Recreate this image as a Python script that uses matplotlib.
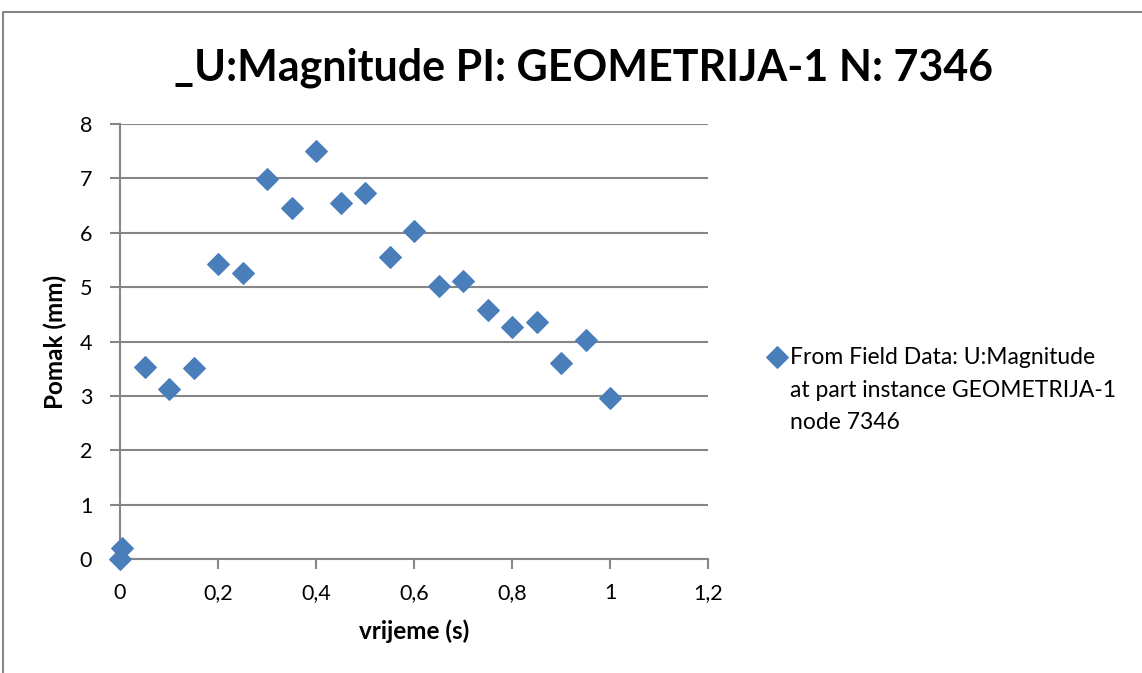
import matplotlib.pyplot as plt
from matplotlib.ticker import FuncFormatter

# data
vrijeme = [0.0, 0.005, 0.05, 0.1, 0.15, 0.2, 0.25, 0.3, 0.35, 0.4, 0.45,
           0.5, 0.55, 0.6, 0.65, 0.7, 0.75, 0.8, 0.85, 0.9, 0.95, 1.0]
pomak = [0.0, 0.2, 3.53, 3.12, 3.52, 5.43, 5.26, 6.99, 6.45, 7.51, 6.54,
         6.73, 5.56, 6.04, 5.03, 5.12, 4.58, 4.26, 4.35, 3.60, 4.03, 2.97]
x_ticks = [0, 0.2, 0.4, 0.6, 0.8, 1.0, 1.2]
y_ticks = [0, 1, 2, 3, 4, 5, 6, 7, 8]

title = '_U:Magnitude PI: GEOMETRIJA-1 N: 7346'
legend_label = 'From Field Data: U:Magnitude\nat part instance GEOMETRIJA-1\nnode 7346'

plt.rcParams['font.family'] = ['Lato', 'DejaVu Sans']
grid_col = '#868686'
blue = '#4A7EBB'

fig = plt.figure(figsize=(11.42, 6.73), dpi=100)
ax = fig.add_axes([0.1051, 0.1694, 0.5149, 0.6463])

ax.scatter(vrijeme, pomak, marker='D', s=120, color=blue, zorder=3,
           clip_on=False, label=legend_label)

ax.set_xlim(0, 1.2)
ax.set_ylim(0, 8)
ax.set_xticks(x_ticks)
ax.set_yticks(y_ticks)

def comma_fmt(v, pos):
    s = ('%g' % v)
    return s.replace('.', ',')

ax.xaxis.set_major_formatter(FuncFormatter(comma_fmt))
ax.yaxis.set_major_formatter(FuncFormatter(comma_fmt))

ax.grid(axis='y', color=grid_col, linewidth=1.5)
ax.set_axisbelow(True)
for side in ['top', 'right']:
    ax.spines[side].set_visible(False)
for side in ['left', 'bottom']:
    ax.spines[side].set_color(grid_col)
    ax.spines[side].set_linewidth(1.5)
ax.tick_params(axis='both', colors=grid_col, labelcolor='black',
               labelsize=15.5, length=7, width=1.5, direction='out')
ax.tick_params(axis='x', pad=10)
ax.tick_params(axis='y', pad=13)

ax.set_xlabel('vrijeme (s)', fontsize=17.5, fontweight='bold', labelpad=12)
ax.set_ylabel('Pomak (mm)', fontsize=17.5, fontweight='bold', labelpad=9)

fig.text(0.511, 0.90, title, ha='center', va='center', fontsize=31,
         fontweight='bold')

leg = ax.legend(loc='upper left', bbox_to_anchor=(1.097, 0.487), frameon=False,
                fontsize=16.5, handletextpad=0.1, handlelength=1.0,
                borderpad=0, borderaxespad=0)
for t in leg.get_texts():
    t.set_linespacing(1.68)
# put the legend marker next to the first text line, like Excel does
for col in leg._legend_handle_box.get_children():
    for item in col.get_children():
        item.align = 'top'

# outer chart border
fig.add_artist(plt.Line2D([0.003, 0.003, 1.0], [0.0, 0.982, 0.982],
                          transform=fig.transFigure, color=grid_col,
                          linewidth=1.5))

fig.savefig('out.png', dpi=100)
